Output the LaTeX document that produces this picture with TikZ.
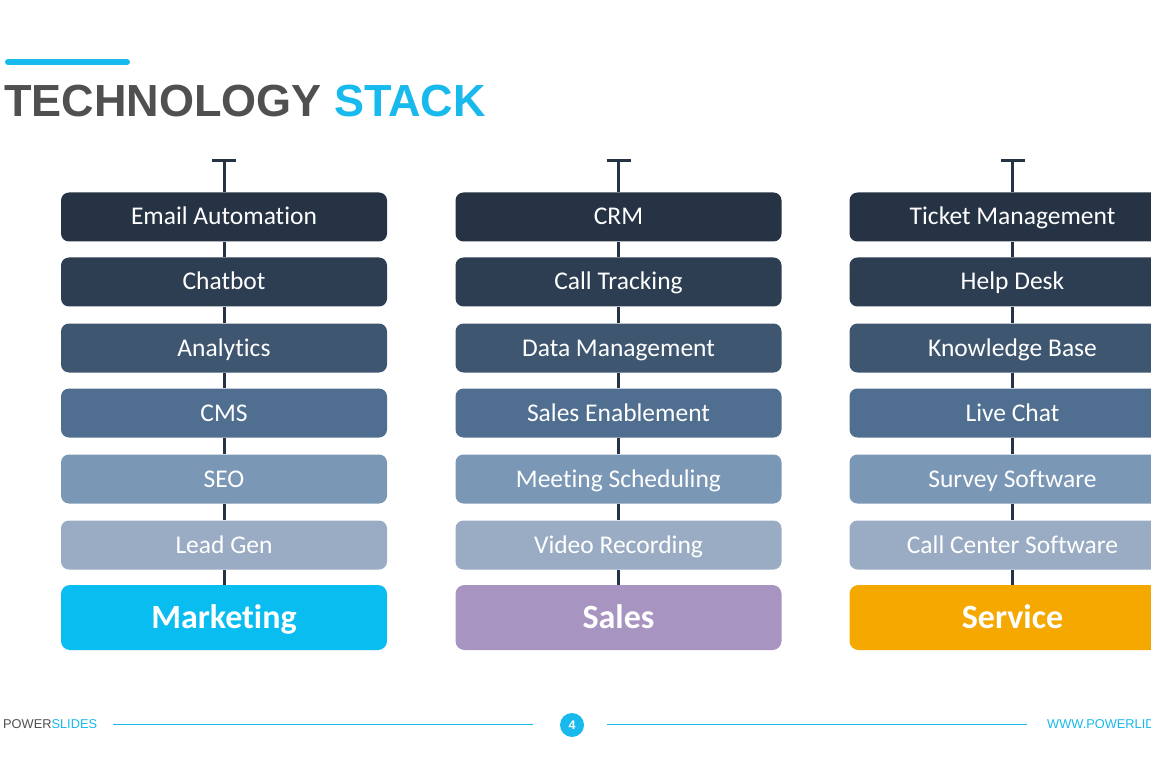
\documentclass[tikz,border=0pt]{standalone}
\usepackage{fontspec}
\setmainfont{Liberation Sans}
\newfontfamily\boxfont[Ligatures=NoCommon]{Carlito}
\definecolor{rA}{HTML}{263345}
\definecolor{rB}{HTML}{2D3D52}
\definecolor{rC}{HTML}{3F5670}
\definecolor{rD}{HTML}{506E90}
\definecolor{rE}{HTML}{7B97B6}
\definecolor{rF}{HTML}{99ACC3}
\definecolor{mkt}{HTML}{0ABDF0}
\definecolor{sls}{HTML}{A894C1}
\definecolor{svc}{HTML}{F5A800}
\definecolor{ttlgray}{HTML}{505050}
\definecolor{cyanc}{HTML}{18B9EC}
\definecolor{stem}{HTML}{263345}
\tikzset{
  itembox/.style={rectangle, rounded corners=8pt, minimum width=326pt, minimum height=49pt, inner sep=0pt, text height=19pt, text depth=3pt, text=white, font=\boxfont\fontsize{25.5pt}{28pt}\selectfont},
  catbox/.style={rectangle, rounded corners=9pt, minimum width=326pt, minimum height=65pt, inner sep=0pt, text height=25pt, text depth=4pt, text=white, font=\boxfont\bfseries\fontsize{34pt}{38pt}\selectfont},
  stemline/.style={draw=stem, line width=3pt},
  footline/.style={draw=cyanc, line width=1pt}
}
\begin{document}
\begin{tikzpicture}[x=1pt,y=-1pt]
\useasboundingbox (0,0) rectangle (1151,767);
\clip (0,0) rectangle (1151,767);
\fill[white] (0,0) rectangle (1151,767);
% title
\coordinate (barL) at (8,62);
\coordinate (barR) at (127,62);
\draw[cyanc, line width=6pt, line cap=round] (barL) -- (barR);
\node[anchor=base west, inner sep=0pt, font=\bfseries\fontsize{45pt}{50pt}\selectfont] (title) at (4,117) {\textcolor{ttlgray}{TECHNOLOGY} \textcolor{cyanc}{STACK}};
% columns
\foreach \cx/\p/\cc/\cat/\a/\b/\c/\d/\e/\f in {
  224/m/mkt/Marketing/Email Automation/Chatbot/Analytics/CMS/SEO/Lead Gen,
  618.5/s/sls/Sales/CRM/Call Tracking/Data Management/Sales Enablement/Meeting Scheduling/Video Recording,
  1012.5/v/svc/Service/Ticket Management/Help Desk/Knowledge Base/Live Chat/Survey Software/Call Center Software}{
  \coordinate (\p top) at (\cx,161);
  \coordinate (\p capL) at (\cx-12,161);
  \coordinate (\p capR) at (\cx+12,161);
  \node[itembox, fill=rA] (\p1) at (\cx,217) {\a};
  \node[itembox, fill=rB] (\p2) at (\cx,282) {\b};
  \node[itembox, fill=rC] (\p3) at (\cx,348) {\c};
  \node[itembox, fill=rD] (\p4) at (\cx,413) {\d};
  \node[itembox, fill=rE] (\p5) at (\cx,479) {\e};
  \node[itembox, fill=rF] (\p6) at (\cx,545) {\f};
  \node[catbox, fill=\cc] (\p c) at (\cx,617.5) {\cat};
  \draw[stemline] (\p capL) -- (\p capR);
  \draw[stemline] (\p top) -- (\p1.north);
  \draw[stemline] (\p1.south) -- (\p2.north);
  \draw[stemline] (\p2.south) -- (\p3.north);
  \draw[stemline] (\p3.south) -- (\p4.north);
  \draw[stemline] (\p4.south) -- (\p5.north);
  \draw[stemline] (\p5.south) -- (\p6.north);
  \draw[stemline] (\p6.south) -- (\p c.north);
}
% footer
\node[anchor=west, inner sep=0pt, font=\fontsize{12.8pt}{14pt}\selectfont] (brand) at (3,724) {\textcolor{ttlgray}{POWER}\textcolor{cyanc}{SLIDES}};
\node[circle, fill=cyanc, minimum size=24pt, inner sep=0pt, text=white, font=\bfseries\fontsize{12.5pt}{14pt}\selectfont] (page) at (572,725) {4};
\coordinate (fl1) at (113,724);
\coordinate (fl2) at (533,724);
\coordinate (fr1) at (607,724);
\coordinate (fr2) at (1027,724);
\draw[footline] (fl1) -- (fl2);
\draw[footline] (fr1) -- (fr2);
\node[anchor=west, inner sep=0pt, text=cyanc, font=\fontsize{12.8pt}{14pt}\selectfont] (url) at (1047,724) {WWW.POWERLIDES.COM};
\end{tikzpicture}
\end{document}
